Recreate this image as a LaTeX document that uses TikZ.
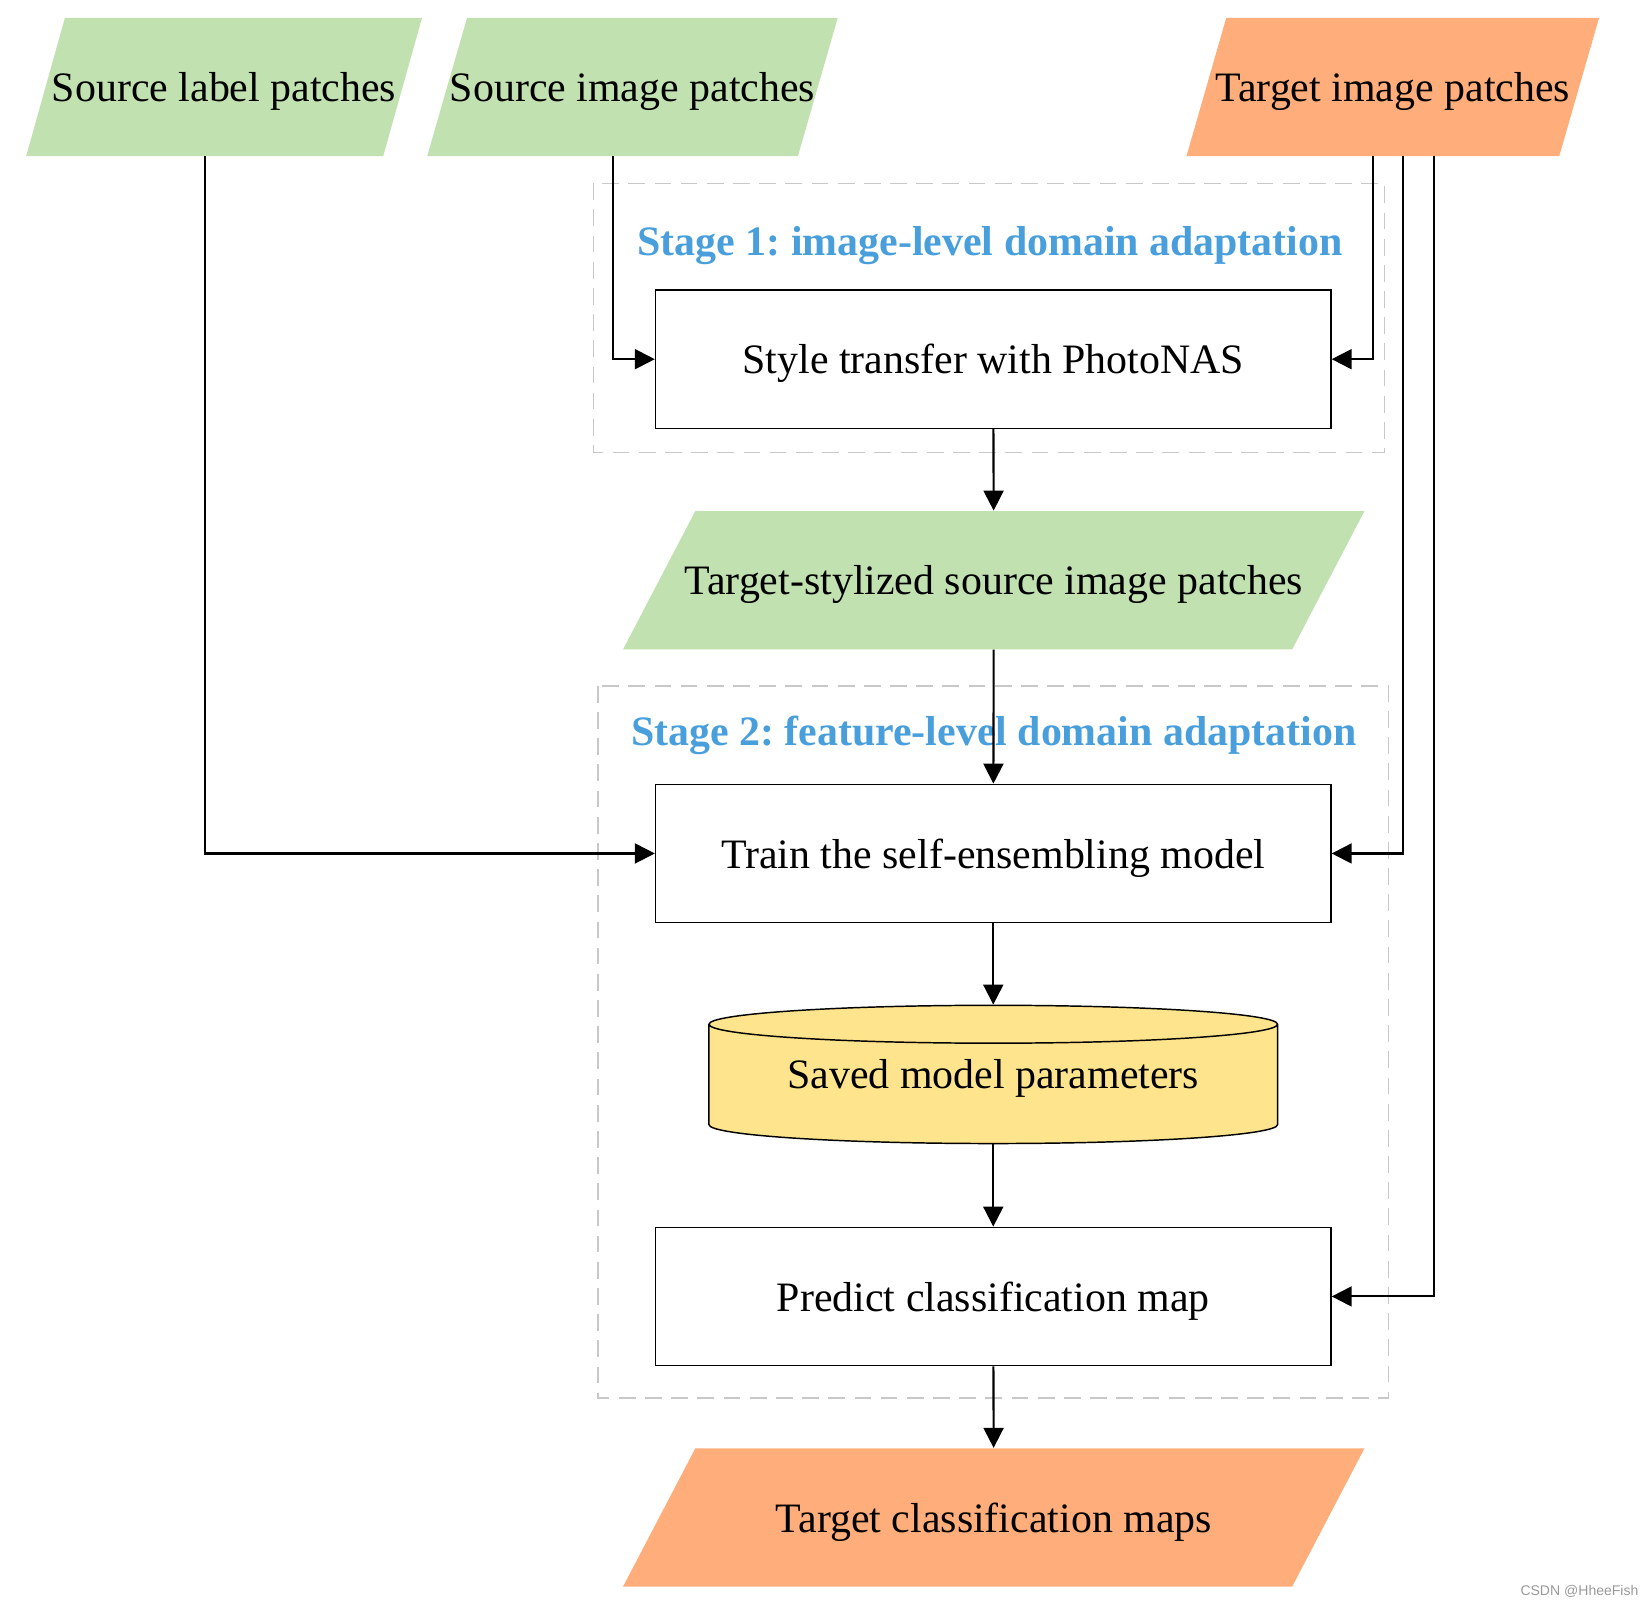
\documentclass[tikz,border=0pt]{standalone}
\usepackage{fontspec}
\setmainfont{Liberation Serif}
\newfontfamily\creditfont{Liberation Sans}
\usetikzlibrary{arrows.meta,shapes.geometric}

\definecolor{srcgreen}{RGB}{193,225,176}
\definecolor{tgtorange}{RGB}{255,174,123}
\definecolor{paramyellow}{RGB}{254,228,141}
\definecolor{stageblue}{RGB}{73,159,219}
\definecolor{stagegray}{RGB}{200,200,200}

\tikzset{lean/.store in=\leanamt, lean=19pt}
\frenchspacing

\begin{document}
\begin{tikzpicture}[x=0.5pt, y=-0.5pt,
  >={Triangle[length=9.5pt,width=9.5pt]},
  every node/.style={font=\fontsize{20}{24}\selectfont, inner sep=0pt, text depth=0pt},
  patch/.style 2 args={minimum width=#1, minimum height=66pt,
    path picture={\fill[#2] ([xshift=\leanamt]path picture bounding box.north west)
      -- (path picture bounding box.north east)
      -- ([xshift=-\leanamt]path picture bounding box.south east)
      -- (path picture bounding box.south west) -- cycle;}},
  stepbox/.style={draw, line width=0.7pt, minimum width=322.5pt, minimum height=66pt},
  store/.style={cylinder, shape border rotate=90, aspect=0.092, draw, line width=0.7pt,
    fill=paramyellow, minimum width=271.5pt, minimum height=66pt, anchor=shape center,
    text depth=10pt},
  stagebox/.style={draw=stagegray, line width=0.6pt, dash pattern=on 8pt off 4.5pt},
  stagetitle/.style={text=stageblue, font=\fontsize{20}{24}\selectfont\bfseries},
  flow/.style={->, line width=1pt}]
\useasboundingbox (0,0) rectangle (1568,1534);

% stage frames
\draw[stagebox] (567,175) rectangle (1322,432);
\draw[stagebox] (571,655) rectangle (1326,1335);
\node[stagetitle] (stage1) at (945.5,230) {Stage 1: image-level domain adaptation};
\node[stagetitle] (stage2) at (949,698) {Stage 2: feature-level domain adaptation};

% inputs
\node[patch={189pt}{srcgreen}, lean=18.5pt] (srclabel) at (214,83) {Source label patches};
\node[patch={196pt}{srcgreen}] (srcimg) at (604,83) {Source image patches};
\node[patch={197pt}{tgtorange}] (tgtimg) at (1330,83) {Target image patches};

% steps
\node[stepbox] (style) at (948.5,343) {Style transfer with PhotoNAS};
\node[patch={354pt}{srcgreen}, lean=34.5pt] (stylized) at (949,554) {Target-stylized source image patches};
\node[stepbox] (train) at (948.5,815) {Train the self-ensembling model};
\node[store] (params) at (948.5,1026) {Saved model parameters};
\node[stepbox] (predict) at (948.5,1238) {Predict classification map};
\node[patch={354pt}{tgtorange}, lean=34.5pt] (maps) at (949,1449) {Target classification maps};

\node[anchor=east, font=\fontsize{6.7}{8}\creditfont, text=black!40] (credit) at (1565,1519) {CSDN @HheeFish};

% connectors
\draw[flow] ([xshift=-9.25pt]srclabel.south) |- (train.west);
\draw[flow] ([xshift=-9.5pt]srcimg.south) |- (style.west);
\draw[flow] ([xshift=-9.5pt]tgtimg.south) |- (style.east);
\draw[flow] ([xshift=5pt]tgtimg.south) |- (train.east);
\draw[flow] ([xshift=19.5pt]tgtimg.south) |- (predict.east);

\draw[flow] (style) -- (stylized);
\draw[flow] (stylized) -- (train);
\draw[flow] (train) -- (params);
\draw[flow] (params) -- (predict);
\draw[flow] (predict) -- (maps);
\end{tikzpicture}
\end{document}
